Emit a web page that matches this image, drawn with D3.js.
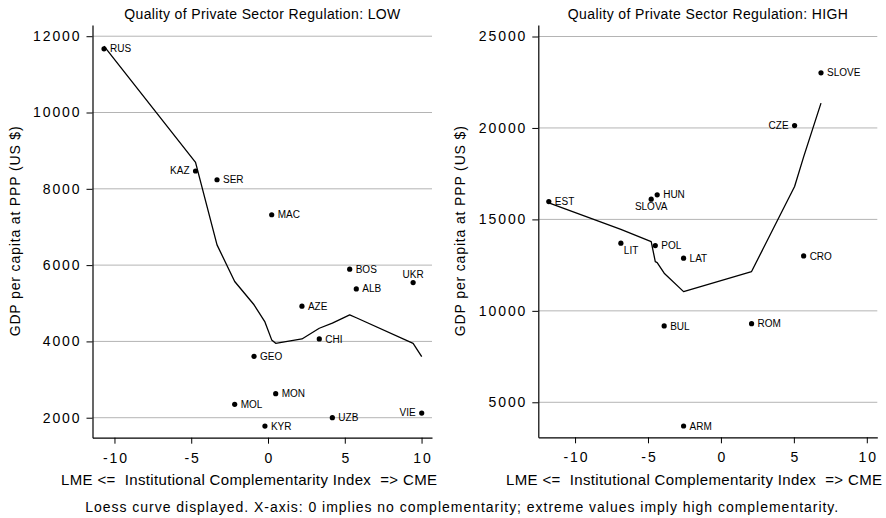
<!DOCTYPE html>
<html>
<head>
<meta charset="utf-8">
<script src="https://cdn.jsdelivr.net/npm/d3@7"></script>
<style>
  html, body { margin: 0; padding: 0; background: #fff; }
  svg { display: block; font-family: "Liberation Sans", Arial, Helvetica, sans-serif; }
</style>
</head>
<body>
<svg id="chart" width="886" height="518"></svg>
<script>
// Low regulation-quality group
const lowCountries = ["RUS", "KAZ", "SER", "MAC", "BOS", "UKR", "ALB", "AZE", "CHI", "GEO", "MON", "MOL", "UZB", "VIE", "KYR"];
const lowIndex     = [-10.68, -4.72, -3.32, 0.24, 5.32, 9.45, 5.75, 2.21, 3.34, -0.91, 0.50, -2.17, 4.19, 10.01, -0.20];
const lowGDP       = [11670, 8467, 8238, 7320, 5894, 5543, 5377, 4923, 4065, 3610, 2629, 2350, 2000, 2122, 1781];
const lowLoess     = [11740, 8695, 6530, 4040, 4695, 3950, 4620, 4065, 4345, 4960, 3950, 5570, 4480, 3600, 4510];

// High regulation-quality group
const highCountries = ["SLOVE", "CZE", "HUN", "SLOVA", "EST", "LIT", "POL", "LAT", "CRO", "BUL", "ROM", "ARM"];
const highIndex     = [6.86, 5.05, -4.37, -4.78, -11.80, -6.86, -4.50, -2.56, 5.67, -3.89, 2.10, -2.56];
const highGDP       = [23014, 20132, 16341, 16106, 15974, 13699, 13568, 12878, 13004, 9175, 9301, 3705];
const highLoess     = [21360, 16800, 12640, 13790, 15900, 14460, 12690, 11050, 18420, 12060, 12150, 11050];

// Tick values
const lowYTicks  = [2000, 4000, 6000, 8000, 10000, 12000];
const highYTicks = [5000, 10000, 15000, 20000, 25000];
const xTicks     = [-10, -5, 0, 5, 10];

// Marker label clock positions (default 3 o'clock)
const labelClock = { KAZ: 9, VIE: 9, CZE: 9, UKR: 12, SLOVA: 6, LIT: 5 };

const svg = d3.select("#chart");

function drawPanel(cfg) {
  const x = d3.scaleLinear().domain(cfg.xDomain).range([cfg.left, cfg.right]);
  const y = d3.scaleLinear().domain(cfg.yDomain).range([cfg.bottom, cfg.top]);
  const g = svg.append("g");

  // horizontal grid
  g.append("g").selectAll("line").data(cfg.yTicks).join("line")
    .attr("x1", cfg.left).attr("x2", cfg.right)
    .attr("y1", d => y(d)).attr("y2", d => y(d))
    .attr("stroke", "#b4b4b4").attr("stroke-width", 1);

  // y axis
  const yAxis = g.append("g").attr("transform", `translate(${cfg.left},0)`)
    .call(d3.axisLeft(y).tickValues(cfg.yTicks).tickSize(6).tickPadding(5).tickFormat(d3.format("d")).tickSizeOuter(0));
  // x axis
  const xAxis = g.append("g").attr("transform", `translate(0,${cfg.bottom})`)
    .call(d3.axisBottom(x).tickValues(xTicks).tickSize(6).tickPadding(9).tickFormat(d => d < 0 ? "-" + Math.abs(d) : String(d)).tickSizeOuter(0));

  [yAxis, xAxis].forEach(a => {
    a.select(".domain").attr("stroke", "#000").attr("stroke-width", 1.2);
    a.selectAll(".tick line").attr("stroke", "#000").attr("stroke-width", 1);
    a.selectAll(".tick text").attr("fill", "#000")
      .style("font-family", "'Liberation Sans', Arial, sans-serif")
      .style("font-size", "14px").style("letter-spacing", "1.9px");
  });
  xAxis.selectAll(".tick text").attr("dx", "0.95px");

  // loess curve, evaluated at each observation
  const fit = cfg.index.map((v, i) => [v, cfg.loess[i]]).sort((a, b) => a[0] - b[0]);
  g.append("path").datum(fit)
    .attr("d", d3.line().x(d => x(d[0])).y(d => y(d[1])))
    .attr("fill", "none").attr("stroke", "#000").attr("stroke-width", 1.3)
    .attr("stroke-linejoin", "round");

  // points and labels
  const pts = cfg.countries.map((c, i) => ({ c, x: cfg.index[i], y: cfg.gdp[i] }));
  g.append("g").selectAll("circle").data(pts).join("circle")
    .attr("cx", d => x(d.x)).attr("cy", d => y(d.y)).attr("r", 2.6).attr("fill", "#000");

  g.append("g").selectAll("text").data(pts).join("text")
    .attr("font-size", 10).attr("fill", "#000")
    .each(function (d) {
      const pos = labelClock[d.c] || 3;
      const t = d3.select(this).text(d.c);
      const px = x(d.x), py = y(d.y);
      if (pos === 3) t.attr("x", px + 6).attr("y", py + 3.6).attr("text-anchor", "start");
      else if (pos === 9) t.attr("x", px - 6).attr("y", py + 3).attr("text-anchor", "end");
      else if (pos === 12) t.attr("x", px).attr("y", py - 5).attr("text-anchor", "middle");
      else if (pos === 6) t.attr("x", px).attr("y", py + 11).attr("text-anchor", "middle");
      else if (pos === 5) t.attr("x", px + 3).attr("y", py + 10.5).attr("text-anchor", "start");
    });

  // titles
  g.append("text").attr("x", (cfg.left + cfg.right) / 2).attr("y", 18.5)
    .attr("text-anchor", "middle").attr("font-size", 14).style("white-space", "pre")
    .attr("textLength", cfg.titleWidth).attr("lengthAdjust", "spacing")
    .text(cfg.title);

  g.append("text").attr("x", cfg.xTitleCenter).attr("y", 485)
    .attr("text-anchor", "middle").attr("font-size", 15).style("white-space", "pre")
    .attr("textLength", 376).attr("lengthAdjust", "spacing")
    .text("LME <=  Institutional Complementarity Index  => CME");

  g.append("text")
    .attr("transform", `translate(${cfg.left - 73},${(cfg.top + cfg.bottom) / 2}) rotate(-90)`)
    .attr("text-anchor", "middle").attr("font-size", 14)
    .attr("textLength", 210).attr("lengthAdjust", "spacing")
    .text("GDP per capita at PPP (US $)");
}

drawPanel({
  countries: lowCountries, index: lowIndex, gdp: lowGDP, loess: lowLoess,
  yTicks: lowYTicks,
  xDomain: [-11.43, 10.68], yDomain: [1476, 12294],
  left: 92.5, right: 432, top: 25, bottom: 437.7,
  title: "Quality of Private Sector Regulation: LOW", titleWidth: 276,
  xTitleCenter: 249
});

drawPanel({
  countries: highCountries, index: highIndex, gdp: highGDP, loess: highLoess,
  yTicks: highYTicks,
  xDomain: [-12.52, 10.72], yDomain: [3086, 25629],
  left: 538.3, right: 877.3, top: 25, bottom: 437.3,
  title: "Quality of Private Sector Regulation: HIGH", titleWidth: 280,
  xTitleCenter: 694
});

svg.append("text").attr("x", 461.7).attr("y", 511.5)
  .attr("text-anchor", "middle").attr("font-size", 14)
  .attr("textLength", 753).attr("lengthAdjust", "spacing")
  .text("Loess curve displayed. X-axis: 0 implies no complementarity; extreme values imply high complementarity.");
</script>
</body>
</html>
